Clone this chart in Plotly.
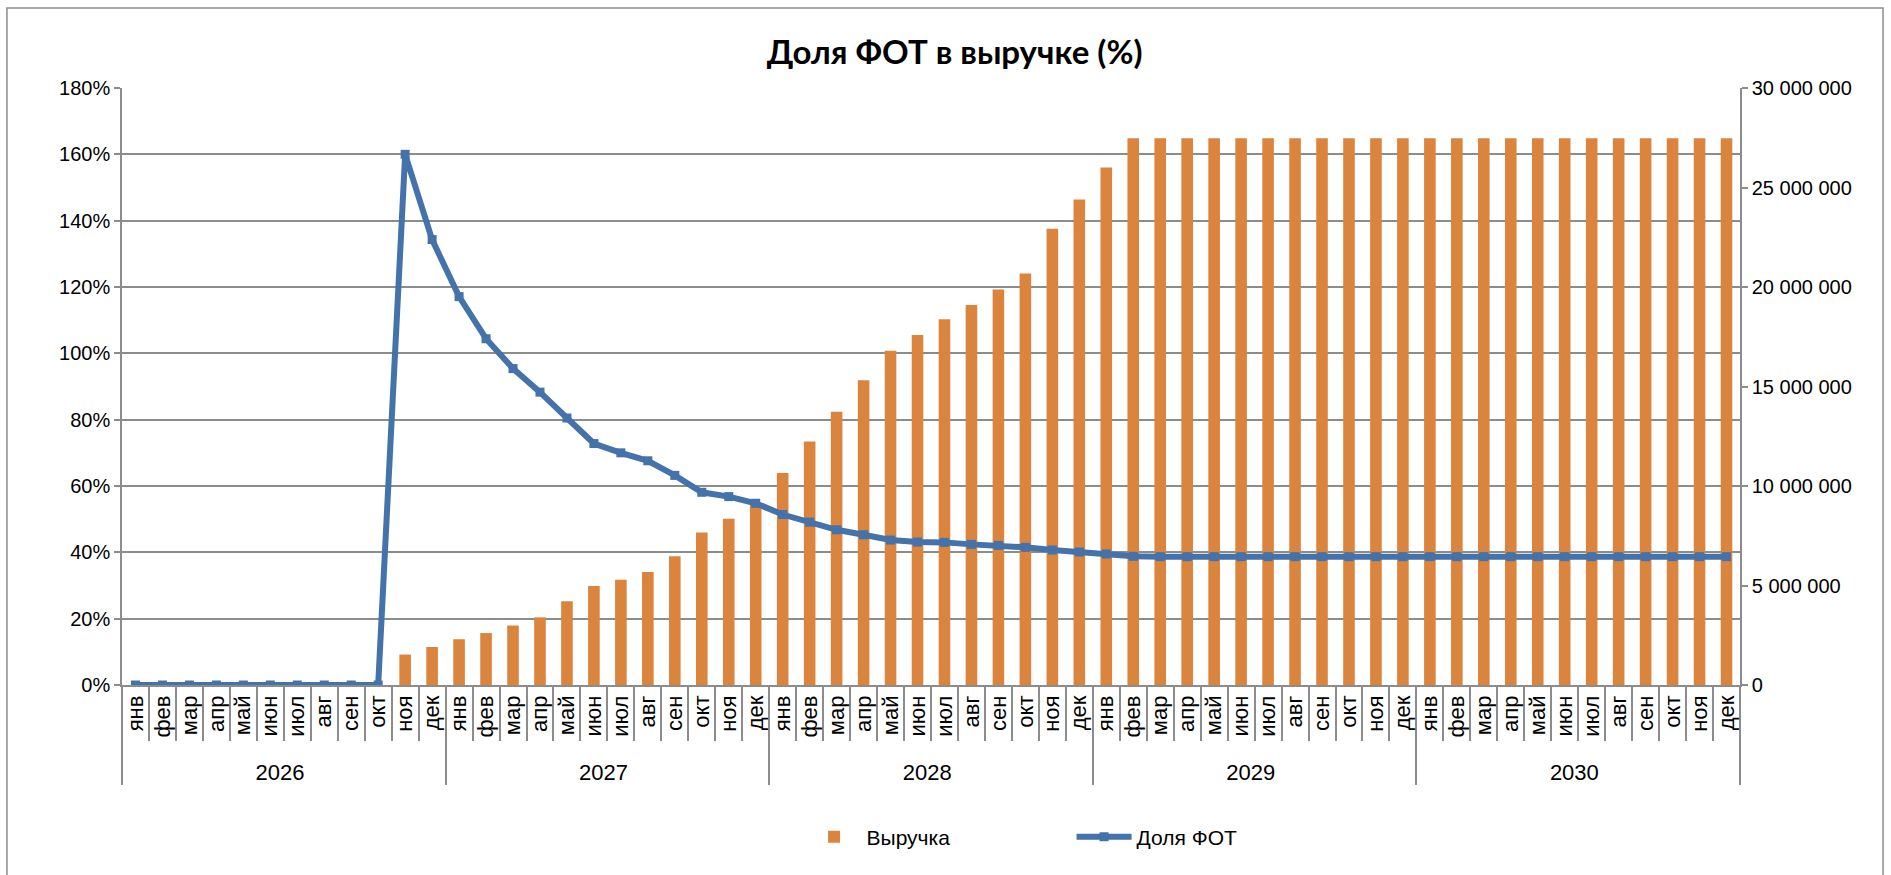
import plotly.graph_objects as go

# categories
years = ['2026', '2027', '2028', '2029', '2030']
months = ['янв', 'фев', 'мар', 'апр', 'май', 'июн',
          'июл', 'авг', 'сен', 'окт', 'ноя', 'дек']

# Выручка, руб. по месяцам
revenue_2026 = [0, 0, 0, 0, 0, 0, 0, 0, 0, 0, 1530000, 1910000]
revenue_2027 = [2300000, 2610000, 2990000, 3400000, 4210000, 4980000,
                5290000, 5680000, 6470000, 7660000, 8360000, 9050000]
revenue_2028 = [10650000, 12240000, 13730000, 15310000, 16800000, 17590000,
                18380000, 19090000, 19880000, 20680000, 22930000, 24400000]
revenue_2029 = [26000000, 27480000, 27480000, 27480000, 27480000, 27480000,
                27480000, 27480000, 27480000, 27480000, 27480000, 27480000]
revenue_2030 = [27480000, 27480000, 27480000, 27480000, 27480000, 27480000,
                27480000, 27480000, 27480000, 27480000, 27480000, 27480000]

# Доля ФОТ в выручке
share_2026 = [0, 0, 0, 0, 0, 0, 0, 0, 0, 0, 1.600, 1.343]
share_2027 = [1.171, 1.044, 0.954, 0.883, 0.805, 0.728,
              0.700, 0.676, 0.632, 0.581, 0.568, 0.548]
share_2028 = [0.514, 0.491, 0.468, 0.453, 0.437, 0.431,
              0.430, 0.424, 0.421, 0.415, 0.407, 0.401]
share_2029 = [0.395, 0.388, 0.387, 0.387, 0.387, 0.387,
              0.387, 0.387, 0.387, 0.387, 0.387, 0.387]
share_2030 = [0.387, 0.387, 0.387, 0.387, 0.387, 0.387,
              0.387, 0.387, 0.387, 0.387, 0.387, 0.387]

ORANGE = '#DB843D'
BLUE = '#4472AA'
GRID = '#8C8C8C'
FONT = 'Liberation Sans, Arial, sans-serif'

x_years = [y for y in years for _ in months]
x_months = months * len(years)
revenue = revenue_2026 + revenue_2027 + revenue_2028 + revenue_2029 + revenue_2030
share = share_2026 + share_2027 + share_2028 + share_2029 + share_2030
n = len(x_months)

fig = go.Figure()
fig.add_trace(go.Bar(
    x=[x_years, x_months], y=revenue, name='Выручка',
    marker=dict(color=ORANGE, line=dict(width=0)), yaxis='y',
))
fig.add_trace(go.Scatter(
    x=[x_years, x_months], y=share, name='Доля ФОТ', mode='lines+markers',
    line=dict(color=BLUE, width=6),
    marker=dict(symbol='square', size=9, color=BLUE), yaxis='y2',
))

fig.update_layout(
    width=1891, height=875,
    margin=dict(l=122, r=151, t=88, b=190),
    paper_bgcolor='white', plot_bgcolor='white',
    separators=', ',
    font=dict(family=FONT, size=20, color='black'),
    title=dict(text='<b>Доля ФОТ в выручке (%)</b>',
               font=dict(family='Lato, sans-serif', size=33, color='black'),
               x=0.5048, xref='container', xanchor='center',
               y=0.94, yref='container', yanchor='middle'),
    bargap=0.57,
    xaxis=dict(range=[-0.5, n - 0.5],
               showline=True, linecolor=GRID, linewidth=1.5,
               ticks='outside', ticklen=54, tickcolor=GRID, tickwidth=1.5,
               tickangle=-90, showgrid=False,
               dividercolor=GRID, dividerwidth=1.5,
               tickfont=dict(size=22)),
    yaxis=dict(side='right', range=[0, 30000000], dtick=5000000,
               tickformat=',d', showgrid=False, zeroline=False,
               showline=True, linecolor=GRID, linewidth=1.5,
               ticks='outside', ticklen=6, tickcolor=GRID, tickwidth=1.5),
    yaxis2=dict(overlaying='y', side='left', range=[0, 1.8], dtick=0.2,
                tickformat='.0%', showgrid=True, gridcolor=GRID, gridwidth=1.5,
                zeroline=False, showline=True, linecolor=GRID, linewidth=1.5,
                ticks='outside', ticklen=6, tickcolor=GRID, tickwidth=1.5),
    legend=dict(orientation='h', x=0.42, xanchor='left',
                y=-0.2546, yanchor='middle', itemwidth=55,
                entrywidth=200, font=dict(size=21)),
    shapes=[dict(type='rect', xref='paper', yref='paper',
                 x0=-0.0711, x1=1.0884, y0=-0.33, y1=1.134,
                 line=dict(color=GRID, width=1.5), layer='below')],
)

fig.write_html('out.html', config={'displayModeBar': False},
               post_script="document.body.style.margin='0';")
